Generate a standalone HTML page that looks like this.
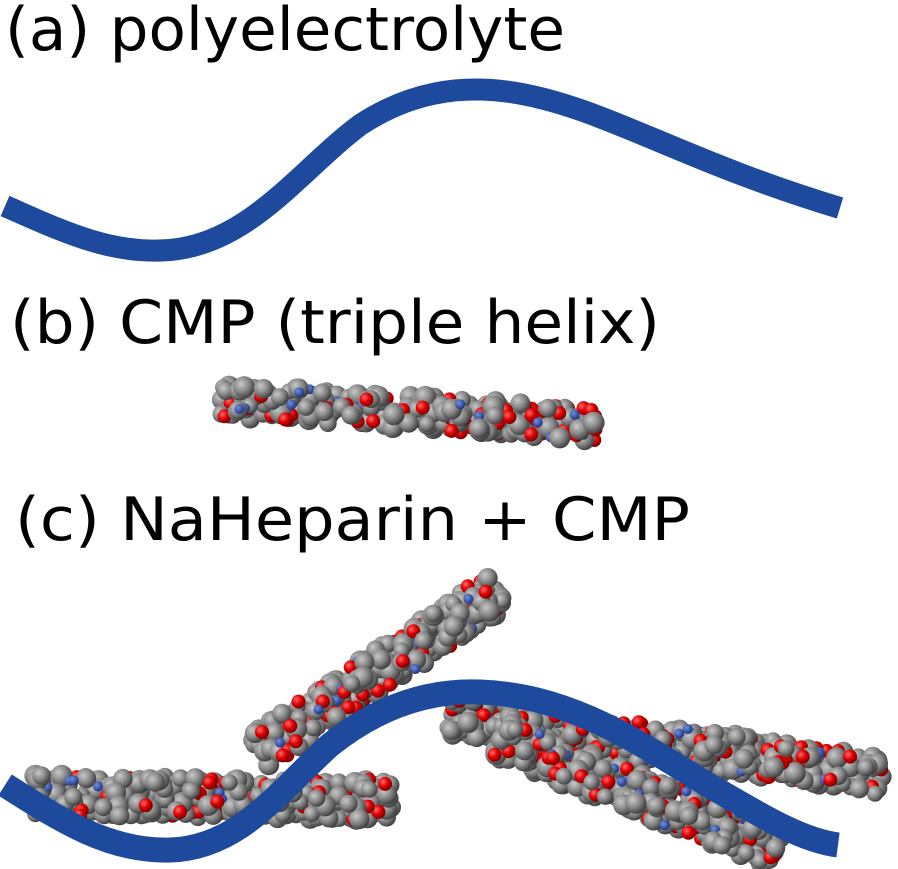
<!DOCTYPE html>
<html><head><meta charset="utf-8"><style>
html,body{margin:0;padding:0;background:#fff;width:898px;height:869px;overflow:hidden}
svg{display:block}
text{font-family:"DejaVu Sans","Liberation Sans",sans-serif;fill:#000}
</style></head><body>
<svg id="s" width="898" height="869" viewBox="0 0 898 869" xmlns="http://www.w3.org/2000/svg">
<defs>
<radialGradient id="gC" cx="35%" cy="35%" r="70%"><stop offset="0" stop-color="#c8c8c8"/><stop offset="0.5" stop-color="#8a8a8a"/><stop offset="1" stop-color="#3a3a3a"/></radialGradient>
<radialGradient id="gO" cx="35%" cy="35%" r="70%"><stop offset="0" stop-color="#ff6a6a"/><stop offset="0.5" stop-color="#e00000"/><stop offset="1" stop-color="#700000"/></radialGradient>
<radialGradient id="gN" cx="35%" cy="35%" r="70%"><stop offset="0" stop-color="#7090e0"/><stop offset="1" stop-color="#1a3080"/></radialGradient>
</defs>
<text x="5" y="50" font-size="60" textLength="560" lengthAdjust="spacingAndGlyphs">(a) polyelectrolyte</text>
<path d="M5,206 C60,230 110,255 170,250 C250,243 300,170 360,125 C410,92 460,85 510,92 C600,105 680,160 840,208" fill="none" stroke="#1d4a9c" stroke-width="22"/>
<text x="10" y="343" font-size="60" textLength="650" lengthAdjust="spacingAndGlyphs">(b) CMP (triple helix)</text>
<g id="rb"></g>
<text x="15" y="540" font-size="60" textLength="675" lengthAdjust="spacingAndGlyphs">(c) NaHeparin + CMP</text>
<g id="rc"></g>
<path d="M5,785 C60,820 110,852 170,850 C240,848 280,790 330,745 C380,705 430,690 480,692 C560,695 620,730 700,780 C760,815 800,840 838,845" fill="none" stroke="#1d4a9c" stroke-width="25"/>
</svg>
<script>
var seed=7;function R(){seed=(seed*16807)%2147483647;return (seed-1)/2147483646;}
var NS="http://www.w3.org/2000/svg";
function rod(g,x1,y1,x2,y2,w){
 var dx=x2-x1,dy=y2-y1,L=Math.sqrt(dx*dx+dy*dy),ux=dx/L,uy=dy/L,nx=-uy,ny=ux;
 var n=Math.floor(L*w/45),atoms=[];
 for(var i=0;i<n;i++){
  var t=R()*L,o=(R()-0.5)*w*0.8,r=R();
  var type=r<0.68?'C':(r<0.92?'O':'N');
  var rad=type=='C'?8+R()*3:(type=='O'?7:5);
  atoms.push([x1+ux*t+nx*o,y1+uy*t+ny*o,rad,type,R()]);
 }
 atoms.sort(function(a,b){return a[4]-b[4];});
 atoms.forEach(function(a){var c=document.createElementNS(NS,'circle');
  c.setAttribute('cx',a[0].toFixed(1));c.setAttribute('cy',a[1].toFixed(1));c.setAttribute('r',a[2].toFixed(1));
  c.setAttribute('fill','url(#g'+a[3]+')');g.appendChild(c);});
}
var rb=document.getElementById('rb'),rc=document.getElementById('rc');
rod(rb,222,400,598,425,42);
rod(rc,258,752,498,590,50);
rod(rc,35,795,392,800,50);
rod(rc,448,715,882,775,50);
rod(rc,500,740,778,848,50);
</script>
</body></html>
